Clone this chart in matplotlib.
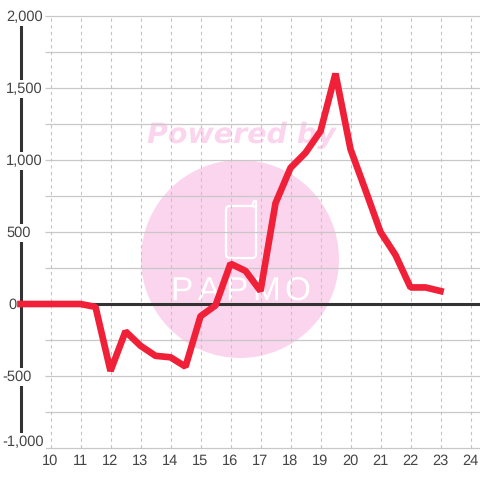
import matplotlib

matplotlib.use("Agg")
import matplotlib.pyplot as plt
import numpy as np
from matplotlib import patches
from matplotlib.transforms import Affine2D

plt.rcParams["font.family"] = ["Liberation Sans", "DejaVu Sans"]
plt.rcParams["text.hinting"] = "none"

# half hour steps from 9 to 23
hours = [9, 9.5, 10, 10.5, 11, 11.5, 12, 12.5, 13, 13.5, 14, 14.5, 15, 15.5, 16, 16.5, 17,
         17.5, 18, 18.5, 19, 19.5, 20, 20.5, 21, 21.5, 22, 22.5, 23]
values = [0, 0, 0, 0, 0, -20, -465, -190, -290, -360, -370, -435, -85, -10, 280, 230, 90,
          700, 945, 1050, 1200, 1600, 1075, 790, 500, 340, 115, 115, 90]
x_ticks = list(range(10, 25))
y_ticks = [2000, 1500, 1000, 500, 0, -500, -1000]
y_labels = ["2,000", "1,500", "1,000", "500", "0", "-500", "-1,000"]
y_grid = [2000, 1750, 1500, 1250, 1000, 750, 500, 250, 0, -250, -500, -750, -1000]

fig = plt.figure(figsize=(4.8, 4.8), dpi=100, facecolor="white")
ax = fig.add_axes([0, 0, 1, 1])
ax.set_xlim(10 - 50.5 / 30, 10 + 429.5 / 30)
ax.set_ylim(-1000 - 32 * 500 / 72, 2000 + 16 * 500 / 72)
ax.axis("off")

# watermark, placed in pixels from the top left
px = Affine2D().scale(1, -1).translate(0, 480)
pink = "#fbd5ed"
ax.add_patch(patches.Circle((240, 259), 99, fc=pink, ec="none", transform=px, zorder=1))
ax.text(241, 135, "Powered by", color=pink, fontsize=20.5, fontweight="bold", style="italic",
        family="DejaVu Sans", ha="center", va="center", transform=px, zorder=1)
ax.add_patch(patches.FancyBboxPatch((226, 206), 30, 52, boxstyle="round,pad=0,rounding_size=4",
                                    fc="none", ec="white", lw=1.6, transform=px, zorder=1.1))
ax.plot([252, 254, 256, 256], [206, 201, 201, 210], color="white", lw=1.6, transform=px, zorder=1.1)
for x, ch in zip([181, 209, 236, 266, 297], "PAPMO"):
    ax.text(x, 291, ch, color="white", fontsize=24, ha="center", va="center", transform=px, zorder=1.1)

# grid
grid_left = 10 - 5.5 / 30
ax.hlines(y_grid, grid_left, ax.get_xlim()[1], color="#c8c8c8", lw=0.9, zorder=2)
ax.vlines(x_ticks, y_ticks[-1], y_ticks[0], color="#c4c4c4", lw=0.8, linestyles=(0, (3, 3)), zorder=2)

# axis lines
ax.plot([9, 9], [y_ticks[-1], y_ticks[0]], color="#333333", lw=2.2, solid_capstyle="butt", zorder=3)
ax.plot([9, ax.get_xlim()[1]], [0, 0], color="#333333", lw=2.2, solid_capstyle="butt", zorder=3)

ax.plot(hours, values, color="#f02038", lw=4.8, solid_joinstyle="bevel", solid_capstyle="projecting", zorder=5)

trans = ax.get_yaxis_transform()
for val, lab in zip(y_ticks, y_labels):
    left = 2 if val < 0 else (8 if val == 0 else 6)
    # the lowest label sits a bit above its gridline
    up = 6 if val == y_ticks[-1] else -1
    ax.annotate(lab, xy=(0, val), xycoords=trans, xytext=(left, up), textcoords="offset pixels",
                ha="left", va="center", fontsize=10.5, color="#444444", zorder=4,
                bbox=dict(fc="white", ec="none", pad=1.5))

for t in x_ticks:
    ax.annotate(str(t), xy=(t, 0), xycoords=ax.get_xaxis_transform(), xytext=(0, 19),
                textcoords="offset pixels", ha="center", va="center", fontsize=10.5,
                color="#444444", zorder=4.5)

fig.savefig("out.png", dpi=100)
